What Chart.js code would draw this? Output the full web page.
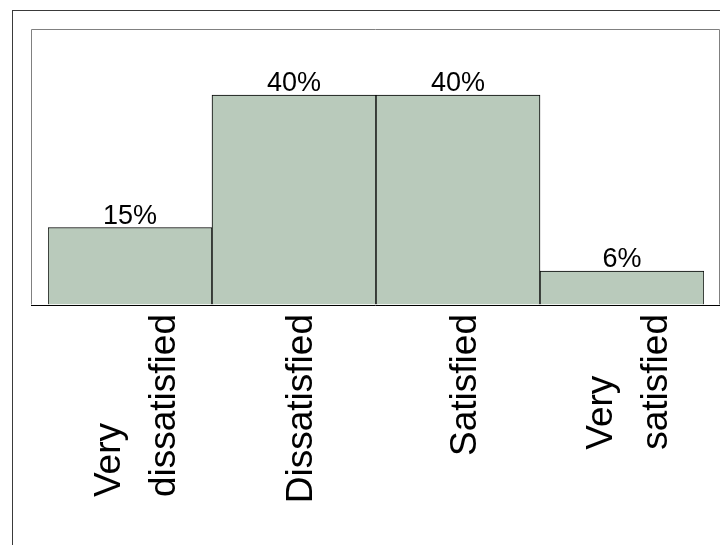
<!DOCTYPE html>
<html>
<head>
<meta charset="utf-8">
<script src="https://cdn.jsdelivr.net/npm/chart.js@4.4.0/dist/chart.umd.min.js"></script>
<style>
  html, body { margin: 0; padding: 0; background: #fff; }
  #wrap { width: 720px; height: 545px; }
</style>
</head>
<body>
<div id="wrap"><canvas id="c" width="720" height="545"></canvas></div>
<script>
// data (bar heights), labels shown rounded
const categories = [['Very', 'dissatisfied'], ['Dissatisfied'], ['Satisfied'], ['Very', 'satisfied']];
const shares = [14.7, 40, 40, 6.4];
const yMax = 52.6;

const FONT = '"Liberation Sans", Arial, sans-serif';

// frame, value labels and the rotated category labels
const decorPlugin = {
    id: 'decor',
    beforeDraw(chart) {
        const ctx = chart.ctx;
        ctx.save();
        ctx.fillStyle = '#fff';
        ctx.fillRect(0, 0, chart.width, chart.height);
        // outer border, runs off the right/bottom edge
        ctx.strokeStyle = '#3a3a3a';
        ctx.lineWidth = 1;
        ctx.strokeRect(12.5, 10.5, 800, 600);
        ctx.restore();
    },
    afterDatasetsDraw(chart) {
        const ctx = chart.ctx;
        const x = chart.scales.x, y = chart.scales.y;
        const base = y.getPixelForValue(0);
        ctx.save();
        // plot frame
        ctx.strokeStyle = '#808080';
        ctx.lineWidth = 1;
        ctx.beginPath();
        ctx.moveTo(31.5, base);
        ctx.lineTo(31.5, 29.5);
        ctx.lineTo(719.5, 29.5);
        ctx.lineTo(719.5, base);
        ctx.stroke();
        ctx.strokeStyle = '#000';
        ctx.beginPath();
        ctx.moveTo(31, Math.round(base) + 0.5);
        ctx.lineTo(720, Math.round(base) + 0.5);
        ctx.stroke();

        // value labels
        ctx.fillStyle = '#000';
        ctx.font = '27px ' + FONT;
        ctx.textAlign = 'center';
        ctx.textBaseline = 'alphabetic';
        chart.getDatasetMeta(0).data.forEach((bar, i) => {
            ctx.fillText(Math.round(shares[i]) + '%', bar.x, bar.y - 4);
        });

        // category labels, rotated, lines left aligned
        ctx.font = '37px ' + FONT;
        ctx.textAlign = 'left';
        const topY = Math.round(base) + 9;
        const gap = 55.5;
        categories.forEach((lines, i) => {
            const cx = x.getPixelForValue(i);
            const maxW = Math.max(...lines.map(l => ctx.measureText(l).width));
            ctx.save();
            ctx.translate(cx, topY);
            ctx.rotate(-Math.PI / 2);
            lines.forEach((l, j) => {
                const off = 17.5 + (j - (lines.length - 1) / 2) * gap;
                ctx.fillText(l, -maxW, off);
            });
            ctx.restore();
        });
        ctx.restore();
    }
};

new Chart(document.getElementById('c'), {
    type: 'bar',
    data: {
        labels: categories.map(c => c.join(' ')),
        datasets: [{
            data: shares,
            backgroundColor: '#b9cabb',
            borderColor: '#000',
            borderWidth: 1,
            categoryPercentage: 1,
            barPercentage: 1
        }]
    },
    options: {
        responsive: false,
        animation: false,
        devicePixelRatio: 1,
        layout: { padding: { left: 48, right: 16, top: 29, bottom: 240.5 } },
        plugins: { legend: { display: false }, tooltip: { enabled: false } },
        scales: {
            x: { display: false, offset: true },
            y: { display: false, min: 0, max: yMax }
        }
    },
    plugins: [decorPlugin]
});
</script>
</body>
</html>
